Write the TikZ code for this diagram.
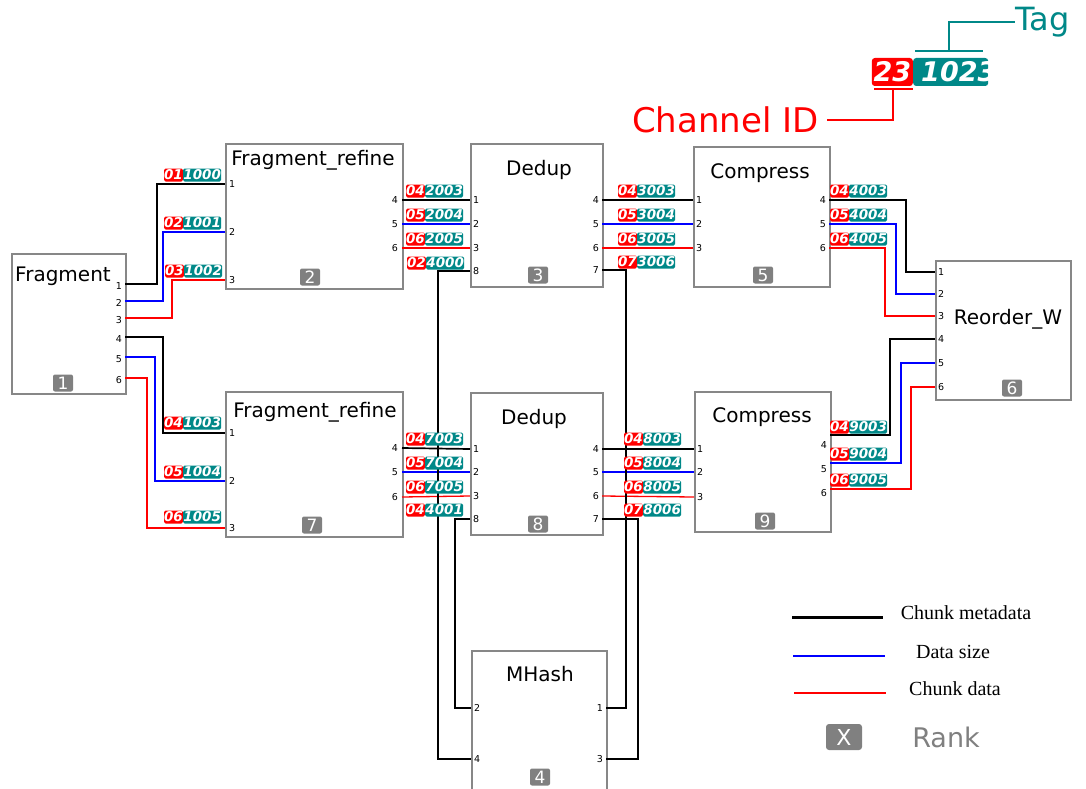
\documentclass[tikz,border=0pt]{standalone}
\usepackage{fontspec}
\setmainfont{DejaVu Sans}
\newfontfamily\legfont{Liberation Serif}
\definecolor{tagc}{RGB}{0,136,136}
\definecolor{rankc}{RGB}{128,128,128}
\definecolor{boxc}{RGB}{135,135,135}
\begin{document}
\begin{tikzpicture}[x=1pt, y=-1pt,
  box/.style={draw=boxc, line width=1.6pt, fill=white, inner sep=0pt, anchor=north west},
  title/.style={font=\fontsize{20}{24}\selectfont, inner sep=0pt},
  rank/.style={fill=rankc, rounded corners=2pt, text=white, minimum width=20pt, minimum height=17pt, inner sep=0pt, font=\fontsize{17}{17}\selectfont},
  port/.style={font=\fontsize{9.5}{10}\selectfont, inner sep=0pt},
  ch/.style={fill=red, text=white, rounded corners=1.5pt, minimum width=17pt, minimum height=13pt, inner sep=0pt, font=\fontsize{13.5}{13.5}\selectfont\bfseries\itshape},
  tg/.style={ch, fill=tagc, minimum width=38pt},
  meta/.style={line width=1.7pt, black},
  size/.style={line width=1.3pt, blue},
  cdata/.style={line width=1.3pt, red}]
  \clip (0,0) rectangle (1086,789);
  \foreach \nm/\x/\y/\w/\h in {F/11/253/114/140, R2/225/143/177/145, D3/470/143/132/143, M4/471/650/135/160, C5/693/146/136/140, R6/935/260/135/139, R7/225/391/177/145, D8/470/392/132/142, C9/694/391/136/140}
    \node[box, minimum width=\w pt, minimum height=\h pt] (\nm) at (\x,\y) {};
  \foreach \nm/\x/\y/\t in {F/63/276/Fragment, R2/313/160/Fragment\_refine, D3/539/170/Dedup, M4/540/674/MHash, C5/760/173/Compress, R6/1008/319/Reorder\_W, R7/315/412/Fragment\_refine, D8/534/419/Dedup, C9/762/417/Compress}
    \node[title] (\nm-title) at (\x,\y) {\t};
  \foreach \nm/\x/\y/\r in {F/63/383/1, R2/310/277/2, D3/538/275/3, M4/540/777/4, C5/763/275/5, R6/1012/388/6, R7/312/525/7, D8/538/524/8, C9/765/521/9}
    \node[rank] (\nm-rank) at (\x,\y) {\r};
  % ports
  \foreach \n/\y in {1/284, 2/301, 3/318, 4/337, 5/357, 6/378}
    {\coordinate (F-\n) at (125,\y); \node[port, anchor=east] (F-\n-n) at (122,\y+2) {\n};}
  \foreach \n/\y in {1/184, 2/232, 3/280}
    {\coordinate (R2-\n) at (225,\y); \node[port, anchor=west] (R2-\n-n) at (229,\y) {\n};}
  \foreach \n/\y in {4/200, 5/224, 6/248}
    {\coordinate (R2-\n) at (402,\y); \node[port, anchor=east] (R2-\n-n) at (398,\y) {\n};}
  \foreach \n/\y in {1/433, 2/481, 3/528}
    {\coordinate (R7-\n) at (225,\y); \node[port, anchor=west] (R7-\n-n) at (229,\y) {\n};}
  \foreach \n/\y in {4/448, 5/472, 6/497}
    {\coordinate (R7-\n) at (402,\y); \node[port, anchor=east] (R7-\n-n) at (398,\y) {\n};}
  \foreach \n/\y in {1/200, 2/224, 3/248, 8/271}
    {\coordinate (D3-\n) at (470,\y); \node[port, anchor=west] (D3-\n-n) at (473,\y) {\n};}
  \foreach \n/\y in {4/200, 5/224, 6/248, 7/270}
    {\coordinate (D3-\n) at (602,\y); \node[port, anchor=east] (D3-\n-n) at (599,\y) {\n};}
  \foreach \n/\y in {1/449, 2/472, 3/496, 8/519}
    {\coordinate (D8-\n) at (470,\y); \node[port, anchor=west] (D8-\n-n) at (473,\y) {\n};}
  \foreach \n/\y in {4/449, 5/472, 6/496, 7/519}
    {\coordinate (D8-\n) at (602,\y); \node[port, anchor=east] (D8-\n-n) at (599,\y) {\n};}
  \foreach \n/\y in {1/200, 2/224, 3/248}
    {\coordinate (C5-\n) at (693,\y); \node[port, anchor=west] (C5-\n-n) at (696,\y) {\n};}
  \foreach \n/\y in {4/200, 5/224, 6/248}
    {\coordinate (C5-\n) at (829,\y); \node[port, anchor=east] (C5-\n-n) at (826,\y) {\n};}
  \foreach \n/\y in {1/449, 2/472, 3/497}
    {\coordinate (C9-\n) at (694,\y); \node[port, anchor=west] (C9-\n-n) at (697,\y) {\n};}
  \foreach \n/\y/\ly in {4/435/445, 5/463/469, 6/489/493}
    {\coordinate (C9-\n) at (830,\y); \node[port, anchor=east] (C9-\n-n) at (827,\ly) {\n};}
  \foreach \n/\y in {1/272, 2/294, 3/316, 4/339, 5/363, 6/387}
    {\coordinate (R6-\n) at (935,\y); \node[port, anchor=west] (R6-\n-n) at (938,\y) {\n};}
  \foreach \n/\y in {2/708, 4/759}
    {\coordinate (M4-\n) at (471,\y); \node[port, anchor=west] (M4-\n-n) at (474,\y) {\n};}
  \foreach \n/\y in {1/708, 3/759}
    {\coordinate (M4-\n) at (606,\y); \node[port, anchor=east] (M4-\n-n) at (603,\y) {\n};}
  % wires
  \draw[meta] (F-1) -- ++(32,0) |- (R2-1);
  \draw[size] (F-2) -- ++(38,0) |- (R2-2);
  \draw[cdata] (F-3) -- ++(47,0) |- (R2-3);
  \draw[meta] (F-4) -- ++(38,0) |- (R7-1);
  \draw[size] (F-5) -- ++(30,0) |- (R7-2);
  \draw[cdata] (F-6) -- ++(22,0) |- (R7-3);
  \draw[meta] (R2-4) -- (D3-1);
  \draw[size] (R2-5) -- (D3-2);
  \draw[cdata] (R2-6) -- (D3-3);
  \draw[meta] (R7-4) -- (D8-1);
  \draw[size] (R7-5) -- (D8-2);
  \draw[cdata] (R7-6) -- (D8-3);
  \draw[meta] (D3-4) -- (C5-1);
  \draw[size] (D3-5) -- (C5-2);
  \draw[cdata] (D3-6) -- (C5-3);
  \draw[meta] (D8-4) -- (C9-1);
  \draw[size] (D8-5) -- (C9-2);
  \draw[cdata] (D8-6) -- (C9-3);
  \draw[meta] (D3-8) -- ++(-32,0) |- (M4-4);
  \draw[meta] (D8-8) -- ++(-15,0) |- (M4-2);
  \draw[meta] (D3-7) -- ++(24,0) |- (M4-1);
  \draw[meta] (D8-7) -- ++(36,0) |- (M4-3);
  \draw[meta] (C5-4) -- ++(77,0) |- (R6-1);
  \draw[size] (C5-5) -- ++(67,0) |- (R6-2);
  \draw[cdata] (C5-6) -- ++(56,0) |- (R6-3);
  \draw[meta] (C9-4) -- ++(60,0) |- (R6-4);
  \draw[size] (C9-5) -- ++(71,0) |- (R6-5);
  \draw[cdata] (C9-6) -- ++(81,0) |- (R6-6);
  % channel / tag labels
  \foreach \x/\y/\c/\t in {183/175/01/1000, 183/223/02/1001, 184/271/03/1002, 183/423/04/1003, 183/472/05/1004, 183/517/06/1005,
      425/191/04/2003, 425/215/05/2004, 425/239/06/2005, 426/263/02/4000, 425/439/04/7003, 425/463/05/7004, 425/487/06/7005, 425/510/04/4001,
      637/191/04/3003, 637/215/05/3004, 637/239/06/3005, 637/262/07/3006, 643/439/04/8003, 643/463/05/8004, 643/487/06/8005, 643/510/07/8006,
      849/191/04/4003, 849/215/05/4004, 849/239/06/4005, 849/427/04/9003, 849/454/05/9004, 849/480/06/9005}
    {\node[ch, anchor=east] (c\t) at (\x,\y) {\c};
     \node[tg, anchor=west] (t\t) at (c\t.east) {\t};}
  % key: channel id and tag
  \node[ch, minimum width=41pt, minimum height=28pt, rounded corners=3pt, font=\fontsize{27}{27}\selectfont\bfseries\itshape, anchor=east] (lg-ch) at (913,72) {23};
  \node[tg, minimum width=75pt, minimum height=28pt, rounded corners=3pt, anchor=west] (lg-tg) at (913,72) {};
  \begin{scope}
    \clip (913,58) rectangle (988,86);
    \node[text=white, inner sep=0pt, font=\fontsize{27}{27}\selectfont\bfseries\itshape, anchor=west] (lg-tgtext) at (921,72) {1023};
  \end{scope}
  \node[text=tagc, inner sep=0pt, font=\fontsize{32}{32}\selectfont, anchor=west] (tag) at (1015,22) {Tag};
  \node[text=red, inner sep=0pt, font=\fontsize{34}{34}\selectfont, anchor=east] (chid) at (819,120) {Channel ID};
  \coordinate (tg-top) at (949,51);
  \coordinate (ch-bot) at (893,89);
  \draw[tagc, line width=1.5pt] (915,51) -- (983,51);
  \draw[tagc, line width=1.5pt] (tg-top) |- (tag.west);
  \draw[red, line width=1.5pt] (874,89) -- (913,89);
  \draw[red, line width=1.5pt] (ch-bot) |- ([xshift=8pt]chid.east);
  % key: lines and rank
  \draw[black, line width=3pt] (792,617) -- (883,617);
  \draw[blue, line width=1.5pt] (793,656) -- (885,656);
  \draw[red, line width=1.5pt] (794,693) -- (886,693);
  \node[font=\legfont\fontsize{20}{20}\selectfont] (lg-meta) at (966,613) {Chunk metadata};
  \node[font=\legfont\fontsize{20}{20}\selectfont] (lg-size) at (953,652) {Data size};
  \node[font=\legfont\fontsize{20}{20}\selectfont] (lg-data) at (955,689) {Chunk data};
  \node[rank, minimum width=36pt, minimum height=26pt, rounded corners=3pt, font=\fontsize{22}{22}\selectfont] (lg-rank) at (844,737) {X};
  \node[text=rankc, font=\fontsize{27}{27}\selectfont] (lg-rtext) at (946,737) {Rank};
\end{tikzpicture}
\end{document}
